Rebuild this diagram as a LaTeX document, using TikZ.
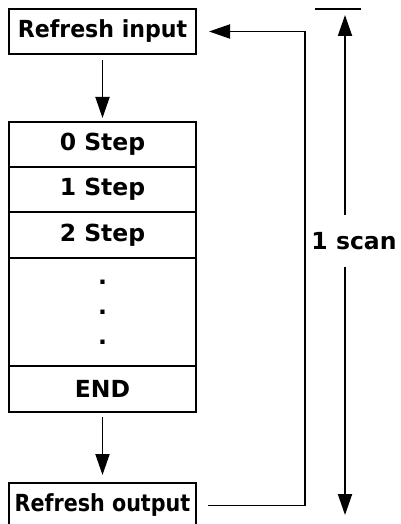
\documentclass[tikz,border=0pt]{standalone}
\usepackage{graphicx}
\usepackage{fontspec}
\setsansfont{DejaVu Sans}
\usetikzlibrary{positioning}
\usetikzlibrary{arrows.meta}
\newcommand{\squeeze}[2]{\scalebox{#1}[1]{#2}}
\tikzset{
  % boxes of the scan cycle, all of one width
  cell/.style={
    draw,line width=1.9pt,outer sep=0pt,inner sep=0pt,
    minimum width=187pt,minimum height=#1,
    font=\sffamily\bfseries\fontsize{23.5}{30}\selectfont,
  },
  cell/.default=45pt,
  % filled arrow heads and thick lines
  flow/.style={-{Triangle[length=21pt,width=14pt]},line width=1.9pt},
  plain/.style={line width=1.9pt},
}
\begin{document}
\begin{tikzpicture}[x=1pt,y=-1pt]
  \clip (0,0) rectangle (401,524);
  \node[cell] (in) at (102.5,31.5) {\squeeze{0.94}{Refresh input}};
  \node[cell,below=68pt of in] (s0) {0 Step};
  \node[cell,below=0pt of s0] (s1) {1 Step};
  \node[cell=46pt,below=0pt of s1] (s2) {2 Step};
  \node[cell=108pt,below=0pt of s2,align=center] (dots) {.\\.\\.};
  \node[cell=46pt,below=0pt of dots] (end) {END};
  \node[cell,below=71pt of end] (out) {\squeeze{0.88}{Refresh output}};
  \draw[flow,shorten <=6pt,shorten >=4pt] (in) -- (s0);
  \draw[flow,shorten <=5pt,shorten >=8pt] (end) -- (out);
  % loop back from output to input
  \coordinate (turn) at (305,0);
  \draw[flow,shorten >=13pt] ([xshift=12pt]out.east) -| (turn |- in.east) -- (in.east);
  % length of one scan
  \coordinate (scantop) at (345,9);
  \coordinate (scanbot) at (345,515);
  \draw[plain] ([xshift=-30pt]scantop) -- ([xshift=16pt]scantop);
  \node[font=\sffamily\bfseries\fontsize{23.5}{30}\selectfont,minimum height=52pt,inner sep=0pt] (scan) at (354,241) {1 scan};
  \draw[flow,shorten >=6pt] (scantop |- scan.north) -- (scantop);
  \draw[flow] (scantop |- scan.south) -- (scanbot);
\end{tikzpicture}
\end{document}
